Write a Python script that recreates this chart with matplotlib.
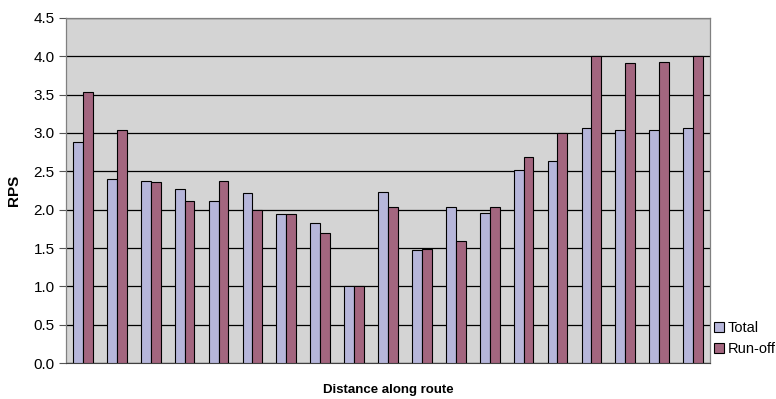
import numpy as np
import matplotlib
matplotlib.use('Agg')
import matplotlib.pyplot as plt

plt.rcParams['font.family'] = ['Liberation Sans', 'DejaVu Sans']

# values (19 points along the route)
total = [2.88, 2.40, 2.38, 2.27, 2.11, 2.22, 1.94, 1.83, 1.01, 2.23,
         1.48, 2.03, 1.96, 2.52, 2.64, 3.07, 3.04, 3.04, 3.07]
runoff = [3.54, 3.04, 2.36, 2.11, 2.38, 2.00, 1.95, 1.70, 1.01, 2.04,
          1.49, 1.59, 2.03, 2.69, 3.00, 4.01, 3.91, 3.92, 4.01]
series_names = ['Total', 'Run-off']
yticks = [0.0, 0.5, 1.0, 1.5, 2.0, 2.5, 3.0, 3.5, 4.0, 4.5]

fig = plt.figure(figsize=(7.76, 3.99), dpi=100)
ax = fig.add_axes([0.085, 0.090, 0.830, 0.865])
ax.set_facecolor('#D4D4D4')

x = np.arange(len(total))
w = 0.29
ax.bar(x - w / 2, total, w, color='#B6B6DA', edgecolor='black', linewidth=0.8,
       label=series_names[0], zorder=3)
ax.bar(x + w / 2, runoff, w, color='#A3667F', edgecolor='black', linewidth=0.8,
       label=series_names[1], zorder=3)

ax.set_xlim(-0.5, len(total) - 0.5)
ax.set_ylim(0, 4.5)
ax.set_yticks(yticks)
ax.set_yticklabels(['%.1f' % v for v in yticks], fontsize=11)
ax.set_xticks([])
ax.yaxis.grid(True, color='black', linewidth=0.9, zorder=1)
ax.tick_params(axis='y', length=5, width=0.8, color='#555555', pad=3)

for s in ['top', 'right', 'left']:
    ax.spines[s].set_color('#808080')
    ax.spines[s].set_linewidth(0.9)
ax.spines['bottom'].set_color('#404040')

ax.set_ylabel('RPS', fontsize=11, fontweight='bold', labelpad=9)
ax.set_xlabel('Distance along route', fontsize=9.5, fontweight='bold', labelpad=15)

ax.legend(loc='lower left', bbox_to_anchor=(0.99, -0.01), frameon=False,
          fontsize=10.5, handlelength=0.7, handleheight=0.7, handletextpad=0.25,
          labelspacing=0.5, borderpad=0.2)

fig.savefig('out.png', dpi=100)
